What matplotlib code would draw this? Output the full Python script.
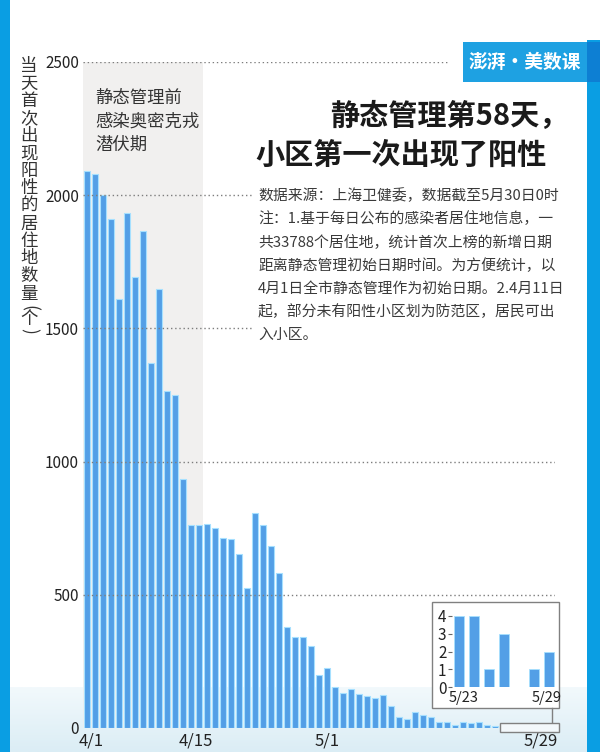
import matplotlib
matplotlib.use("Agg")
import matplotlib.pyplot as plt
import matplotlib.transforms as mtransforms
from matplotlib.patches import Rectangle
from matplotlib.lines import Line2D
import numpy as np

plt.rcParams['font.family'] = ['Noto Sans CJK SC', 'DejaVu Sans']

# ---------------- data ----------------
# daily count of residences first reported positive, 4/1 (day 0) .. 5/29 (day 58)
counts = [2090, 2080, 2000, 1910, 1612, 1935, 1692, 1866, 1370, 1647,
          1266, 1250, 935, 762, 762, 767, 752, 714, 710, 652,
          525, 808, 762, 683, 582, 378, 340, 340, 309, 199,
          225, 155, 130, 146, 126, 120, 112, 122, 84, 40,
          33, 60, 48, 42, 22, 22, 12, 22, 20, 22,
          12, 8, 4, 4, 1, 3, 0, 1, 2]
tick_days = [0, 14, 30, 58]
tick_labels = ['4/1', '4/15', '5/1', '5/29']
y_ticks = [0, 500, 1000, 1500, 2000, 2500]
inset_start = 52
inset_tick_labels = ['5/23', '5/29']
inset_y_ticks = [0, 1, 2, 3, 4]
shade_days = (0, 14)

title_lines = ['静态管理第58天，', '小区第一次出现了阳性']
note_lines = ['数据来源：上海卫健委，数据截至5月30日0时',
              '注：1.基于每日公布的感染者居住地信息，一',
              '共33788个居住地，统计首次上榜的新增日期',
              '距离静态管理初始日期时间。为方便统计，以',
              '4月1日全市静态管理作为初始日期。2.4月11日',
              '起，部分未有阳性小区划为防范区，居民可出',
              '入小区。']
shade_lines = ['静态管理前', '感染奥密克戎', '潜伏期']
ylabel_chars = ['当', '天', '首', '次', '出', '现', '阳', '性', '的', '居',
                '住', '地', '数', '量']
logo_text = '澎湃·美数课'

# ---------------- layout helpers ----------------
W, H = 600, 752
def fx(x):
    return x / W
def fy(y):
    return 1 - y / H

BAR = '#539fe6'
EDGE = '#a6e0ff'
TXT = '#333333'

fig = plt.figure(figsize=(6, 7.52), dpi=100)
fig.patch.set_facecolor('white')

# background gradient near the bottom
bg = fig.add_axes([0, 0, 1, 1], zorder=-10)
bg.set_xlim(0, W)
bg.set_ylim(H, 0)
bg.axis('off')
grad = np.linspace(0, 1, 64).reshape(-1, 1)
c0 = np.array([0xf2, 0xf9, 0xfc]) / 255
c1 = np.array([0xdb, 0xed, 0xf5]) / 255
img = c0[None, None, :] * (1 - grad[:, :, None]) + c1[None, None, :] * grad[:, :, None]
bg.imshow(img, extent=(0, W, H, 687), aspect='auto', interpolation='bilinear')

# main axes
ax = fig.add_axes([fx(83), fy(728), 472 / W, 666 / H], zorder=1)
ax.set_facecolor('none')
days = np.arange(len(counts))
ax.axvspan(shade_days[0] - 0.5, shade_days[1] + 0.5, color='#f1f0ef', zorder=0, lw=0)
ax.bar(days, counts, width=0.78, color=BAR, edgecolor=EDGE, linewidth=0.8, zorder=2)
for v in y_ticks[1:]:
    xmax = (447 - 83) / 472 if v == y_ticks[-1] else 1.0
    ax.axhline(v, xmax=xmax, color='#7d7d7d', lw=1.0, ls=(0, (1, 2)), zorder=3)
ax.set_xlim(-0.5, len(counts) - 0.5)
ax.set_ylim(0, 2500)
ax.set_yticks(y_ticks)
ax.set_yticklabels([str(v) for v in y_ticks], fontsize=11, color='#222222')
ax.set_xticks(tick_days)
ax.set_xticklabels(tick_labels, fontsize=12, color='#222222')
ax.tick_params(axis='both', length=0)
ax.tick_params(axis='y', pad=3)
ax.tick_params(axis='x', pad=3)
# small label nudges as in the reference layout
label_shift_px = [4, -3, 0, -10]
for lab, dx in zip(ax.get_xticklabels(), label_shift_px):
    lab.set_transform(lab.get_transform() +
                      mtransforms.ScaledTranslation(dx / 100, 0, fig.dpi_scale_trans))
for s in ax.spines.values():
    s.set_visible(False)

# text inside shaded region
for i, t in enumerate(shade_lines):
    fig.text(fx(95), fy(98 + i * 23.5), t, fontsize=12.5, color=TXT,
             ha='left', va='center', zorder=6)

# white block behind note text
fig.add_artist(Rectangle((fx(254), fy(346)), (566 - 254) / W, (346 - 182) / H,
                         transform=fig.transFigure, facecolor='white',
                         edgecolor='none', zorder=2))
for i, t in enumerate(note_lines):
    fig.text(fx(258), fy(195.7 + i * 23.2), t, fontsize=10.7, color='#3a3a3a',
             ha='left', va='center', zorder=6)

# title
fig.text(fx(330), fy(115.5), title_lines[0], fontsize=21, fontweight='bold',
         color='#1a1a1a', ha='left', va='center', zorder=6)
fig.text(fx(255), fy(154.5), title_lines[1], fontsize=21, fontweight='bold',
         color='#1a1a1a', ha='left', va='center', zorder=6)

# vertical y label
ys = [66 + 17.5 * i for i in range(len(ylabel_chars))]
for ch, yy in zip(ylabel_chars, ys):
    fig.text(fx(29), fy(yy), ch, fontsize=12.5, color=TXT, ha='center',
             va='center', zorder=6)
fig.text(fx(29), fy(308), '(', fontsize=12.5, color=TXT, ha='center', va='center',
         rotation=-90, rotation_mode='anchor', zorder=6)
fig.text(fx(29), fy(319.5), '个', fontsize=12.5, color=TXT, ha='center',
         va='center', zorder=6)
fig.text(fx(29), fy(331), ')', fontsize=12.5, color=TXT, ha='center', va='center',
         rotation=-90, rotation_mode='anchor', zorder=6)

# side stripes and logo
fig.add_artist(Rectangle((0, 0), 10 / W, 1, transform=fig.transFigure,
                         facecolor='#0a9ee3', edgecolor='none', zorder=7))
fig.add_artist(Rectangle((fx(587), 0), 13 / W, fy(40), transform=fig.transFigure,
                         facecolor='#0a9ee3', edgecolor='none', zorder=7))
fig.add_artist(Rectangle((fx(587), fy(82)), 13 / W, 40 / H, transform=fig.transFigure,
                         facecolor='#0d7fd3', edgecolor='none', zorder=7))
fig.add_artist(Rectangle((fx(463), fy(82)), 124 / W, 40 / H, transform=fig.transFigure,
                         facecolor='#1ea1e2', edgecolor='none', zorder=7))
fig.text(fx(525), fy(62), logo_text, fontsize=13.5, fontweight='bold', color='white',
         ha='center', va='center', zorder=8)

# inset frame, connector and zoom rectangle
fig.add_artist(Rectangle((fx(432), fy(708)), 127 / W, 106 / H, transform=fig.transFigure,
                         facecolor='white', edgecolor='#808080', lw=1, zorder=4))
fig.add_artist(Line2D([fx(552), fx(552)], [fy(708), fy(723)], transform=fig.transFigure,
                      color='#808080', lw=1, zorder=4))
fig.add_artist(Rectangle((fx(500), fy(732)), 59 / W, 9 / H, transform=fig.transFigure,
                         facecolor='#f3f8fb', edgecolor='#808080', lw=1, zorder=4))

ins = fig.add_axes([fx(452), fy(687), 104 / W, 71 / H], zorder=5)
ins.set_facecolor('none')
inset_vals = counts[inset_start:]
ins.bar(np.arange(len(inset_vals)), inset_vals, width=0.68, color=BAR,
        edgecolor=EDGE, linewidth=0.6)
ins.set_xlim(-0.5, len(inset_vals) - 0.5)
ins.set_ylim(0, 4)
ins.set_yticks(inset_y_ticks)
ins.set_yticklabels([str(v) for v in inset_y_ticks], fontsize=11, color='#222222')
ins.set_xticks([0, len(inset_vals) - 1])
ins.set_xticklabels(inset_tick_labels, fontsize=10.5, color='#222222')
ins.tick_params(axis='y', length=3, width=0.8, color='#666666', pad=1)
ins.tick_params(axis='x', length=0, pad=3)
inset_shift_px = [4, -2]
for lab, dx in zip(ins.get_xticklabels(), inset_shift_px):
    lab.set_transform(lab.get_transform() +
                      mtransforms.ScaledTranslation(dx / 100, 0, fig.dpi_scale_trans))
for s in ins.spines.values():
    s.set_visible(False)

fig.savefig('out.png', dpi=100)
